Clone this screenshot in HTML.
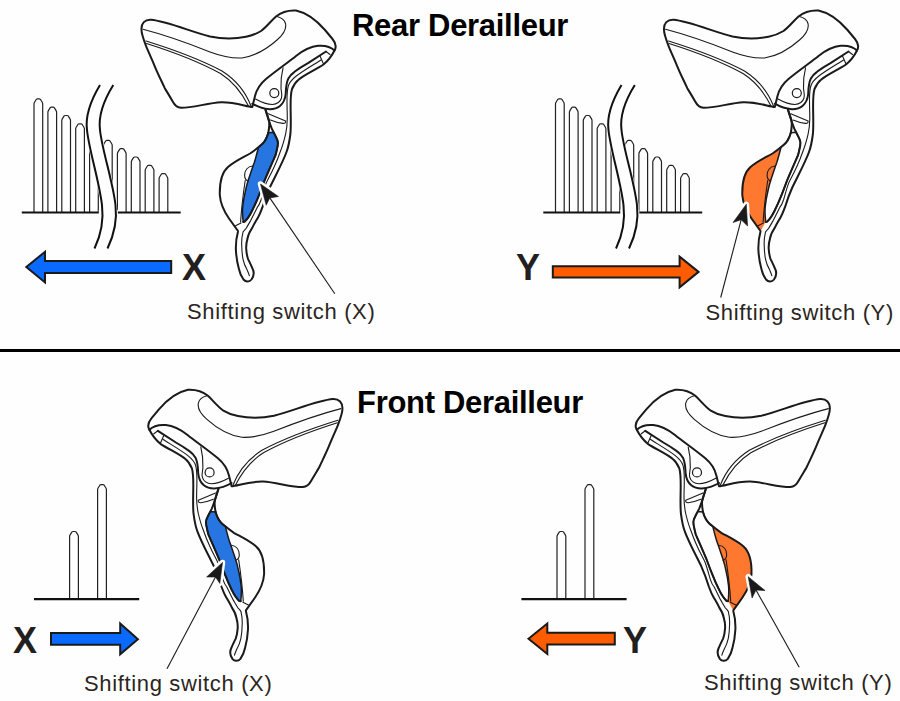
<!DOCTYPE html>
<html><head><meta charset="utf-8"><style>
html,body{margin:0;padding:0;background:#fefefe;}
body{width:900px;height:701px;position:relative;overflow:hidden;font-family:"Liberation Sans",sans-serif;}
svg{position:absolute;left:0;top:0;}
.t{position:absolute;white-space:nowrap;line-height:1;}
.h{font-weight:bold;color:#000;font-size:31px;letter-spacing:-0.3px;}
.l{color:#2b2522;font-size:22px;letter-spacing:0.65px;}
.xy{font-weight:bold;color:#231f20;font-size:36px;}
</style></head><body>
<svg width="900" height="701" viewBox="0 0 900 701">
<g transform="translate(0,0)"><path d="M34.0,212.5 L34.0,103.9 Q34.0,103.10000000000001 34.5,102.30000000000001 L36.35,99.30000000000001 Q36.75,98.9 37.35,98.9 L39.35,98.9 Q39.95,98.9 40.35,99.30000000000001 L42.2,102.30000000000001 Q42.7,103.10000000000001 42.7,103.9 L42.7,212.5" fill="#fefefe" stroke="#222" stroke-width="1.2" stroke-linejoin="round"/><path d="M47.9,212.5 L47.9,112.2 Q47.9,111.4 48.4,110.60000000000001 L50.25,107.60000000000001 Q50.65,107.2 51.25,107.2 L53.25,107.2 Q53.85,107.2 54.25,107.60000000000001 L56.1,110.60000000000001 Q56.6,111.4 56.6,112.2 L56.6,212.5" fill="#fefefe" stroke="#222" stroke-width="1.2" stroke-linejoin="round"/><path d="M61.8,212.5 L61.8,120.5 Q61.8,119.7 62.3,118.9 L64.15,115.9 Q64.55000000000001,115.5 65.15,115.5 L67.15,115.5 Q67.75,115.5 68.15,115.9 L70.0,118.9 Q70.5,119.7 70.5,120.5 L70.5,212.5" fill="#fefefe" stroke="#222" stroke-width="1.2" stroke-linejoin="round"/><path d="M75.7,212.5 L75.7,128.8 Q75.7,128.0 76.2,127.2 L78.05000000000001,124.2 Q78.45000000000002,123.8 79.05000000000001,123.8 L81.05000000000001,123.8 Q81.65,123.8 82.05000000000001,124.2 L83.9,127.2 Q84.4,128.0 84.4,128.8 L84.4,212.5" fill="#fefefe" stroke="#222" stroke-width="1.2" stroke-linejoin="round"/><path d="M89.6,212.5 L89.6,137.1 Q89.6,136.29999999999998 90.1,135.5 L91.94999999999999,132.5 Q92.35,132.1 92.94999999999999,132.1 L94.94999999999999,132.1 Q95.54999999999998,132.1 95.94999999999999,132.5 L97.8,135.5 Q98.3,136.29999999999998 98.3,137.1 L98.3,212.5" fill="#fefefe" stroke="#222" stroke-width="1.2" stroke-linejoin="round"/><path d="M103.5,212.5 L103.5,145.4 Q103.5,144.6 104.0,143.8 L105.85,140.8 Q106.25,140.4 106.85,140.4 L108.85,140.4 Q109.44999999999999,140.4 109.85,140.8 L111.7,143.8 Q112.2,144.6 112.2,145.4 L112.2,212.5" fill="#fefefe" stroke="#222" stroke-width="1.2" stroke-linejoin="round"/><path d="M117.4,212.5 L117.4,153.7 Q117.4,152.89999999999998 117.9,152.1 L119.75,149.1 Q120.15,148.7 120.75,148.7 L122.75,148.7 Q123.35,148.7 123.75,149.1 L125.6,152.1 Q126.1,152.89999999999998 126.1,153.7 L126.1,212.5" fill="#fefefe" stroke="#222" stroke-width="1.2" stroke-linejoin="round"/><path d="M131.3,212.5 L131.3,162.0 Q131.3,161.2 131.8,160.4 L133.65,157.4 Q134.05,157.0 134.65,157.0 L136.65,157.0 Q137.25,157.0 137.65,157.4 L139.5,160.4 Q140.0,161.2 140.0,162.0 L140.0,212.5" fill="#fefefe" stroke="#222" stroke-width="1.2" stroke-linejoin="round"/><path d="M145.2,212.5 L145.2,170.3 Q145.2,169.5 145.7,168.70000000000002 L147.55,165.70000000000002 Q147.95000000000002,165.3 148.55,165.3 L150.55,165.3 Q151.15,165.3 151.55,165.70000000000002 L153.4,168.70000000000002 Q153.9,169.5 153.9,170.3 L153.9,212.5" fill="#fefefe" stroke="#222" stroke-width="1.2" stroke-linejoin="round"/><path d="M159.1,212.5 L159.1,178.6 Q159.1,177.79999999999998 159.6,177.0 L161.45,174.0 Q161.85,173.6 162.45,173.6 L164.45,173.6 Q165.04999999999998,173.6 165.45,174.0 L167.3,177.0 Q167.8,177.79999999999998 167.8,178.6 L167.8,212.5" fill="#fefefe" stroke="#222" stroke-width="1.2" stroke-linejoin="round"/><path d="M21.8,212.5 H180.7" stroke="#111" stroke-width="2.2"/><path d="M100,85 C91,100 85,115 87,130 C89,150 99,180 102,205 C104,222 100.5,236 94.5,248.5 L107.5,248.5 C113.5,236 117.5,222 115.5,205 C112.5,180 102,150 100,130 C98,115 104,100 113.3,85 Z" fill="#fefefe" stroke="#fefefe" stroke-width="3"/><rect x="98.8" y="210" width="19" height="5" fill="#fefefe"/><path d="M100,85 C91,100 85,115 87,130 C89,150 99,180 102,205 C104,222 100.5,236 94.5,248.5" fill="none" stroke="#111" stroke-width="2"/><path d="M113.3,85 C104,100 98,115 100,130 C102,150 112.5,180 115.5,205 C117.5,222 113.5,236 107.5,248.5" fill="none" stroke="#111" stroke-width="2"/></g><g transform="translate(521.5,0)"><path d="M34.0,212.5 L34.0,103.9 Q34.0,103.10000000000001 34.5,102.30000000000001 L36.35,99.30000000000001 Q36.75,98.9 37.35,98.9 L39.35,98.9 Q39.95,98.9 40.35,99.30000000000001 L42.2,102.30000000000001 Q42.7,103.10000000000001 42.7,103.9 L42.7,212.5" fill="#fefefe" stroke="#222" stroke-width="1.2" stroke-linejoin="round"/><path d="M47.9,212.5 L47.9,112.2 Q47.9,111.4 48.4,110.60000000000001 L50.25,107.60000000000001 Q50.65,107.2 51.25,107.2 L53.25,107.2 Q53.85,107.2 54.25,107.60000000000001 L56.1,110.60000000000001 Q56.6,111.4 56.6,112.2 L56.6,212.5" fill="#fefefe" stroke="#222" stroke-width="1.2" stroke-linejoin="round"/><path d="M61.8,212.5 L61.8,120.5 Q61.8,119.7 62.3,118.9 L64.15,115.9 Q64.55000000000001,115.5 65.15,115.5 L67.15,115.5 Q67.75,115.5 68.15,115.9 L70.0,118.9 Q70.5,119.7 70.5,120.5 L70.5,212.5" fill="#fefefe" stroke="#222" stroke-width="1.2" stroke-linejoin="round"/><path d="M75.7,212.5 L75.7,128.8 Q75.7,128.0 76.2,127.2 L78.05000000000001,124.2 Q78.45000000000002,123.8 79.05000000000001,123.8 L81.05000000000001,123.8 Q81.65,123.8 82.05000000000001,124.2 L83.9,127.2 Q84.4,128.0 84.4,128.8 L84.4,212.5" fill="#fefefe" stroke="#222" stroke-width="1.2" stroke-linejoin="round"/><path d="M89.6,212.5 L89.6,137.1 Q89.6,136.29999999999998 90.1,135.5 L91.94999999999999,132.5 Q92.35,132.1 92.94999999999999,132.1 L94.94999999999999,132.1 Q95.54999999999998,132.1 95.94999999999999,132.5 L97.8,135.5 Q98.3,136.29999999999998 98.3,137.1 L98.3,212.5" fill="#fefefe" stroke="#222" stroke-width="1.2" stroke-linejoin="round"/><path d="M103.5,212.5 L103.5,145.4 Q103.5,144.6 104.0,143.8 L105.85,140.8 Q106.25,140.4 106.85,140.4 L108.85,140.4 Q109.44999999999999,140.4 109.85,140.8 L111.7,143.8 Q112.2,144.6 112.2,145.4 L112.2,212.5" fill="#fefefe" stroke="#222" stroke-width="1.2" stroke-linejoin="round"/><path d="M117.4,212.5 L117.4,153.7 Q117.4,152.89999999999998 117.9,152.1 L119.75,149.1 Q120.15,148.7 120.75,148.7 L122.75,148.7 Q123.35,148.7 123.75,149.1 L125.6,152.1 Q126.1,152.89999999999998 126.1,153.7 L126.1,212.5" fill="#fefefe" stroke="#222" stroke-width="1.2" stroke-linejoin="round"/><path d="M131.3,212.5 L131.3,162.0 Q131.3,161.2 131.8,160.4 L133.65,157.4 Q134.05,157.0 134.65,157.0 L136.65,157.0 Q137.25,157.0 137.65,157.4 L139.5,160.4 Q140.0,161.2 140.0,162.0 L140.0,212.5" fill="#fefefe" stroke="#222" stroke-width="1.2" stroke-linejoin="round"/><path d="M145.2,212.5 L145.2,170.3 Q145.2,169.5 145.7,168.70000000000002 L147.55,165.70000000000002 Q147.95000000000002,165.3 148.55,165.3 L150.55,165.3 Q151.15,165.3 151.55,165.70000000000002 L153.4,168.70000000000002 Q153.9,169.5 153.9,170.3 L153.9,212.5" fill="#fefefe" stroke="#222" stroke-width="1.2" stroke-linejoin="round"/><path d="M159.1,212.5 L159.1,178.6 Q159.1,177.79999999999998 159.6,177.0 L161.45,174.0 Q161.85,173.6 162.45,173.6 L164.45,173.6 Q165.04999999999998,173.6 165.45,174.0 L167.3,177.0 Q167.8,177.79999999999998 167.8,178.6 L167.8,212.5" fill="#fefefe" stroke="#222" stroke-width="1.2" stroke-linejoin="round"/><path d="M21.8,212.5 H180.7" stroke="#111" stroke-width="2.2"/><path d="M100,85 C91,100 85,115 87,130 C89,150 99,180 102,205 C104,222 100.5,236 94.5,248.5 L107.5,248.5 C113.5,236 117.5,222 115.5,205 C112.5,180 102,150 100,130 C98,115 104,100 113.3,85 Z" fill="#fefefe" stroke="#fefefe" stroke-width="3"/><rect x="98.8" y="210" width="19" height="5" fill="#fefefe"/><path d="M100,85 C91,100 85,115 87,130 C89,150 99,180 102,205 C104,222 100.5,236 94.5,248.5" fill="none" stroke="#111" stroke-width="2"/><path d="M113.3,85 C104,100 98,115 100,130 C102,150 112.5,180 115.5,205 C117.5,222 113.5,236 107.5,248.5" fill="none" stroke="#111" stroke-width="2"/></g><g transform="translate(0,0)"><path d="M69.6,599.2 L69.6,536.5 Q69.6,535.7 70.1,534.9 L72.0,531.9 Q72.4,531.5 73.0,531.5 L75.0,531.5 Q75.6,531.5 76.0,531.9 L77.9,534.9 Q78.4,535.7 78.4,536.5 L78.4,599.2" fill="#fefefe" stroke="#222" stroke-width="1.2" stroke-linejoin="round"/><path d="M97.6,599.2 L97.6,489.6 Q97.6,488.8 98.1,488.0 L100.0,485.0 Q100.4,484.6 101.0,484.6 L103.0,484.6 Q103.6,484.6 104.0,485.0 L105.9,488.0 Q106.4,488.8 106.4,489.6 L106.4,599.2" fill="#fefefe" stroke="#222" stroke-width="1.2" stroke-linejoin="round"/><path d="M34,599.2 H139.2" stroke="#111" stroke-width="2.2"/></g><g transform="translate(487.4,0)"><path d="M69.6,599.2 L69.6,536.5 Q69.6,535.7 70.1,534.9 L72.0,531.9 Q72.4,531.5 73.0,531.5 L75.0,531.5 Q75.6,531.5 76.0,531.9 L77.9,534.9 Q78.4,535.7 78.4,536.5 L78.4,599.2" fill="#fefefe" stroke="#222" stroke-width="1.2" stroke-linejoin="round"/><path d="M97.6,599.2 L97.6,489.6 Q97.6,488.8 98.1,488.0 L100.0,485.0 Q100.4,484.6 101.0,484.6 L103.0,484.6 Q103.6,484.6 104.0,485.0 L105.9,488.0 Q106.4,488.8 106.4,489.6 L106.4,599.2" fill="#fefefe" stroke="#222" stroke-width="1.2" stroke-linejoin="round"/><path d="M34,599.2 H139.2" stroke="#111" stroke-width="2.2"/></g><path d="M26.3,267.1 L45.0,251.8 L45.0,261.1 L171.2,261.1 L171.2,272.9 L45.0,272.9 L45.0,282.5 Z" fill="#0a6afe" stroke="#1a1a1a" stroke-width="2" stroke-linejoin="miter"/><path d="M698.5,271.9 L679.6,256.7 L679.6,266.3 L552.8,266.3 L552.8,277.5 L679.6,277.5 L679.6,287.3 Z" fill="#ff5c00" stroke="#1a1a1a" stroke-width="2" stroke-linejoin="miter"/><path d="M137.9,639.2 L120.2,623.5 L120.2,633.0 L51.0,633.0 L51.0,644.8 L120.2,644.8 L120.2,654.3 Z" fill="#0a6afe" stroke="#1a1a1a" stroke-width="2" stroke-linejoin="miter"/><path d="M528.5,638.7 L547.3,623.5 L547.3,632.7 L614.8,632.7 L614.8,644.5 L547.3,644.5 L547.3,654.0 Z" fill="#ff5c00" stroke="#1a1a1a" stroke-width="2" stroke-linejoin="miter"/><g transform="translate(0,0)"><path d="M258.5,147.3 C256,149.5 253.5,151.5 250,153.5 C244,157 235,161 228,167 C221,173 219.5,183 219.8,195 C220.5,205 224.5,212 229,218.5 C231.5,222 234,225.5 238,231 C240,228 241.5,225 243.2,221.5 C242.5,216 242.2,211 242.8,206 C243.5,200 244,197 245,193 C246,188 247,184 248,181 C249,177.5 250,175 251,172 C252,169 253,166 254.3,162.5 C255.5,159 256.8,154 258.5,147.3 Z" fill="#fefefe" stroke="none"/><path d="M268.3,132.7 L273.4,132.2 C274,133.2 274.5,134 275,135 C276.5,138 277.9,140 277.9,142.5 C278,145 277.5,147 277,149 C276.5,151.5 276,153.5 275.6,155 C273,161 269,170 264.9,179.7 C263,184.5 261.5,189 259.6,193.6 C257.5,199 255,205 252.1,210.7 C250,215 247.5,219 244.7,221.6 C244,222 243.5,222 243.2,221.8 C242.5,216 242.2,211 242.8,206 C243.5,200 244,197 245,193 C246,188 247,184 248,181 C249,177.5 250,175 251,172 C252,169 253,166 254.3,162.5 C255.5,159 256.8,154 258.5,147.3 C262,145 266,140 268.3,132.7 Z" fill="#2775e1" stroke="#1a1a1a" stroke-width="1.5" stroke-linejoin="round"/><path d="M141.5,30 C141,23 145,19.5 151,19.8 C166,21 192,32 210,36.5 C222,39 235,39 246,36.8 C252,35.5 257,33.5 261,31 C266,27.5 271,21 276,16.5 C281,12.5 288,10 296,10.5 C308,13 318,22 325,30 L332.5,39 C336.2,43.5 336.3,47.5 334.5,50.5 C331,47 324,45.3 318,45.8 C310,46.5 303,50.5 296,56 C290,61 277,70 266,79 C260,84 256.5,90 255,96 L252.3,107 C246,106.5 235,102 221,102.3 C208,103 192,108 181,107.8 C176,107.5 174,104 172.7,101.5 C169,95 167,92 164.8,88.2 C161,80 158,74 155.4,67.8 C151,57 148,51 146,45.8 C143,38 141.5,34 141.5,30 Z" fill="#fefefe" stroke="#1a1a1a" stroke-width="2.0" stroke-linecap="round" stroke-linejoin="round" /><path d="M143,29.3 C165,35 190,44 210,52 C222,56.5 232,58.5 242,58 C255,56 268,48 277,40 C284,34 286.5,28 285.5,23.5 C284.5,20 281,17.5 277,16.5" fill="none" stroke="#1a1a1a" stroke-width="1.1" stroke-linecap="round" stroke-linejoin="round" /><path d="M146,41 C175,50 205,62 222,71 C236,80 246,93 251,106" fill="none" stroke="#1a1a1a" stroke-width="1.1" stroke-linecap="round" stroke-linejoin="round" /><path d="M146.5,43.5 C175,52.5 204,64.5 220.5,73.5 C234,82 243,95 248.5,106" fill="none" stroke="#1a1a1a" stroke-width="1.1" stroke-linecap="round" stroke-linejoin="round" /><path d="M252.3,103.7 C257,106.5 263,108.8 269.4,109.2 C274,109.3 277,108.5 280,106 C283.5,103 285.3,98 285.7,94 C286,90 285.8,84 288.2,78.8 C290,75.5 292,73.5 294.5,71.8 C299,68.5 303,66 308,63.2 L326,51.5" fill="none" stroke="#1a1a1a" stroke-width="2.0" stroke-linecap="round" stroke-linejoin="round" /><path d="M283.1,67.7 C281.5,74 280.8,82 281,88.3 C281.2,92 282.5,95 281.5,98 C280.5,101.5 277,104.5 272.5,104.5 C266,104.5 260,101.5 255.5,99" fill="none" stroke="#1a1a1a" stroke-width="1.1" stroke-linecap="round" stroke-linejoin="round" /><circle cx="274.3" cy="93.1" r="4.5" fill="none" stroke="#1a1a1a" stroke-width="1.2"/><path d="M334.5,50.5 C332.5,54.5 329,60 323.5,64.5 C316,69.5 304,75 298.5,79.7 C295,82.5 293.4,85.7 292,89 C290.8,93 290.6,100 290.6,106 C290.6,115 291.2,126 290.4,134 C289.5,141 288.5,147 286.5,152 C284,159 279,169 275,177 C273,181 271.5,184 270,187 C267.5,192.5 265,199 262.3,207.7 C261,211 260,214 258.4,216.7 C256,221 254,224 252,228.3 C249.5,232 248,235 247.5,238.6 C246.5,242 246,245 246.2,248.8 C246.5,253 247,256 248.1,259.1 C249.5,262 251,265 252.5,268.5 C254,271.5 254,276 251.5,279.5 C249.5,282 246,282.5 243.5,279.5 C241,276 239.5,272 238.8,268.5 C237,262 236.2,256 235.9,250 C235.7,244 236.5,237 237.9,232.1" fill="none" stroke="#1a1a1a" stroke-width="2.0" stroke-linecap="round" stroke-linejoin="round" /><path d="M321,60 C314,64.5 302,71.5 296,76.3 C292,79.5 289.5,82 288.3,86 C287.2,90 287,95 287,100 C287,108 287.3,113 287.3,118.5 C287.2,125 286.5,130 285.6,134.2 C284,141 282.5,146 280.9,150 C278.5,157 276.5,162 274,167.2 C271.5,173 268.5,178 266.2,182.9 C264,189 262.5,195 261,200 C260,203 258.5,206 257.1,207.7 C255,212 253,216 250.7,220.6 C249,223.5 247.5,226 246.2,228.3 C244.5,230 243.5,231 243,232.1 C241.8,237 241.5,241 241.7,245 C241.8,250 242.2,255 243,259.1 C244,264 245.5,267 246.9,269.4 C247.8,271.5 248.8,273.5 249.4,275.8" fill="none" stroke="#1a1a1a" stroke-width="1.1" stroke-linecap="round" stroke-linejoin="round" /><path d="M320,56 L323.5,64" fill="none" stroke="#1a1a1a" stroke-width="1.1" stroke-linecap="round" stroke-linejoin="round" /><path d="M326,51.5 L330,54.5" fill="none" stroke="#1a1a1a" stroke-width="1.1" stroke-linecap="round" stroke-linejoin="round" /><path d="M265.5,109.5 C266.5,113 268.5,118 269.2,122 C269.5,125 269,129 268.3,132.7" fill="none" stroke="#1a1a1a" stroke-width="2.0" stroke-linecap="round" stroke-linejoin="round" /><path d="M265.5,110 L269.3,121.9 C270.5,125 271,127 272.1,129.3 C273.5,132 274,133 275,135 C276.5,138 277.9,140 277.9,142.5 C278,145 277.5,147 277,149 C276.5,151.5 276,153.5 275.6,155 C273,161 269,170 264.9,179.7 C263,184.5 261.5,189 259.6,193.6 C257.5,199 255,205 252.1,210.7 C250,215 247.5,219 244.7,221.6 C244,222 243.5,222 243.2,221.8" fill="none" stroke="#1a1a1a" stroke-width="2.0" stroke-linecap="round" stroke-linejoin="round" /><path d="M268.3,132.7 C267,138 264.5,142.5 260.7,145.3 C257,148.5 254,151 250,153.5 C244,157 235,161 228,167 C221,173 219.5,183 219.8,195 C220.5,205 224.5,212 229,218.5 C231.5,222 234,225.5 238,231" fill="none" stroke="#1a1a1a" stroke-width="2.0" stroke-linecap="round" stroke-linejoin="round" /><path d="M268.3,113.8 L285.6,120.9 C286,122.5 285,123.5 283,123.4 C279,123 274,121.5 270.5,120" fill="none" stroke="#1a1a1a" stroke-width="1.1" stroke-linecap="round" stroke-linejoin="round" /><path d="M252.8,166 C247.5,166.5 244.6,170.5 244.6,175.6 C244.6,178.5 246.5,180.8 248.3,181" fill="none" stroke="#1a1a1a" stroke-width="1.1" stroke-linecap="round" stroke-linejoin="round" /><path d="M245.2,180.5 C243.8,190 241.6,205 240.6,222" fill="none" stroke="#1a1a1a" stroke-width="1.1" stroke-linecap="round" stroke-linejoin="round" /><path d="M235.5,225.7 L241,223" fill="none" stroke="#1a1a1a" stroke-width="1.1" stroke-linecap="round" stroke-linejoin="round" /></g><path d="M260.5,184 L278.5,196.5 L269.8,197.9 L266.2,205.2 Z" fill="#fefefe" stroke="#fefefe" stroke-width="5.5" stroke-linejoin="round"/><path d="M269.8,197.9 L334.8,293.7" stroke="#1a1a1a" stroke-width="1.1"/><path d="M260.5,184 L278.5,196.5 L269.8,197.9 L266.2,205.2 Z" fill="#1a1a1a" stroke="#1a1a1a" stroke-width="0.6" stroke-linejoin="miter"/><g transform="translate(522.5,0)"><path d="M258.5,147.3 C256,149.5 253.5,151.5 250,153.5 C244,157 235,161 228,167 C221,173 219.5,183 219.8,195 C220.5,205 224.5,212 229,218.5 C231.5,222 234,225.5 238,231 C240,228 241.5,225 243.2,221.5 C242.5,216 242.2,211 242.8,206 C243.5,200 244,197 245,193 C246,188 247,184 248,181 C249,177.5 250,175 251,172 C252,169 253,166 254.3,162.5 C255.5,159 256.8,154 258.5,147.3 Z" fill="#fe7830" stroke="none"/><path d="M268.3,132.7 L273.4,132.2 C274,133.2 274.5,134 275,135 C276.5,138 277.9,140 277.9,142.5 C278,145 277.5,147 277,149 C276.5,151.5 276,153.5 275.6,155 C273,161 269,170 264.9,179.7 C263,184.5 261.5,189 259.6,193.6 C257.5,199 255,205 252.1,210.7 C250,215 247.5,219 244.7,221.6 C244,222 243.5,222 243.2,221.8 C242.5,216 242.2,211 242.8,206 C243.5,200 244,197 245,193 C246,188 247,184 248,181 C249,177.5 250,175 251,172 C252,169 253,166 254.3,162.5 C255.5,159 256.8,154 258.5,147.3 C262,145 266,140 268.3,132.7 Z" fill="#fefefe" stroke="#1a1a1a" stroke-width="1.5" stroke-linejoin="round"/><path d="M141.5,30 C141,23 145,19.5 151,19.8 C166,21 192,32 210,36.5 C222,39 235,39 246,36.8 C252,35.5 257,33.5 261,31 C266,27.5 271,21 276,16.5 C281,12.5 288,10 296,10.5 C308,13 318,22 325,30 L332.5,39 C336.2,43.5 336.3,47.5 334.5,50.5 C331,47 324,45.3 318,45.8 C310,46.5 303,50.5 296,56 C290,61 277,70 266,79 C260,84 256.5,90 255,96 L252.3,107 C246,106.5 235,102 221,102.3 C208,103 192,108 181,107.8 C176,107.5 174,104 172.7,101.5 C169,95 167,92 164.8,88.2 C161,80 158,74 155.4,67.8 C151,57 148,51 146,45.8 C143,38 141.5,34 141.5,30 Z" fill="#fefefe" stroke="#1a1a1a" stroke-width="2.0" stroke-linecap="round" stroke-linejoin="round" /><path d="M143,29.3 C165,35 190,44 210,52 C222,56.5 232,58.5 242,58 C255,56 268,48 277,40 C284,34 286.5,28 285.5,23.5 C284.5,20 281,17.5 277,16.5" fill="none" stroke="#1a1a1a" stroke-width="1.1" stroke-linecap="round" stroke-linejoin="round" /><path d="M146,41 C175,50 205,62 222,71 C236,80 246,93 251,106" fill="none" stroke="#1a1a1a" stroke-width="1.1" stroke-linecap="round" stroke-linejoin="round" /><path d="M146.5,43.5 C175,52.5 204,64.5 220.5,73.5 C234,82 243,95 248.5,106" fill="none" stroke="#1a1a1a" stroke-width="1.1" stroke-linecap="round" stroke-linejoin="round" /><path d="M252.3,103.7 C257,106.5 263,108.8 269.4,109.2 C274,109.3 277,108.5 280,106 C283.5,103 285.3,98 285.7,94 C286,90 285.8,84 288.2,78.8 C290,75.5 292,73.5 294.5,71.8 C299,68.5 303,66 308,63.2 L326,51.5" fill="none" stroke="#1a1a1a" stroke-width="2.0" stroke-linecap="round" stroke-linejoin="round" /><path d="M283.1,67.7 C281.5,74 280.8,82 281,88.3 C281.2,92 282.5,95 281.5,98 C280.5,101.5 277,104.5 272.5,104.5 C266,104.5 260,101.5 255.5,99" fill="none" stroke="#1a1a1a" stroke-width="1.1" stroke-linecap="round" stroke-linejoin="round" /><circle cx="274.3" cy="93.1" r="4.5" fill="none" stroke="#1a1a1a" stroke-width="1.2"/><path d="M334.5,50.5 C332.5,54.5 329,60 323.5,64.5 C316,69.5 304,75 298.5,79.7 C295,82.5 293.4,85.7 292,89 C290.8,93 290.6,100 290.6,106 C290.6,115 291.2,126 290.4,134 C289.5,141 288.5,147 286.5,152 C284,159 279,169 275,177 C273,181 271.5,184 270,187 C267.5,192.5 265,199 262.3,207.7 C261,211 260,214 258.4,216.7 C256,221 254,224 252,228.3 C249.5,232 248,235 247.5,238.6 C246.5,242 246,245 246.2,248.8 C246.5,253 247,256 248.1,259.1 C249.5,262 251,265 252.5,268.5 C254,271.5 254,276 251.5,279.5 C249.5,282 246,282.5 243.5,279.5 C241,276 239.5,272 238.8,268.5 C237,262 236.2,256 235.9,250 C235.7,244 236.5,237 237.9,232.1" fill="none" stroke="#1a1a1a" stroke-width="2.0" stroke-linecap="round" stroke-linejoin="round" /><path d="M321,60 C314,64.5 302,71.5 296,76.3 C292,79.5 289.5,82 288.3,86 C287.2,90 287,95 287,100 C287,108 287.3,113 287.3,118.5 C287.2,125 286.5,130 285.6,134.2 C284,141 282.5,146 280.9,150 C278.5,157 276.5,162 274,167.2 C271.5,173 268.5,178 266.2,182.9 C264,189 262.5,195 261,200 C260,203 258.5,206 257.1,207.7 C255,212 253,216 250.7,220.6 C249,223.5 247.5,226 246.2,228.3 C244.5,230 243.5,231 243,232.1 C241.8,237 241.5,241 241.7,245 C241.8,250 242.2,255 243,259.1 C244,264 245.5,267 246.9,269.4 C247.8,271.5 248.8,273.5 249.4,275.8" fill="none" stroke="#1a1a1a" stroke-width="1.1" stroke-linecap="round" stroke-linejoin="round" /><path d="M320,56 L323.5,64" fill="none" stroke="#1a1a1a" stroke-width="1.1" stroke-linecap="round" stroke-linejoin="round" /><path d="M326,51.5 L330,54.5" fill="none" stroke="#1a1a1a" stroke-width="1.1" stroke-linecap="round" stroke-linejoin="round" /><path d="M265.5,109.5 C266.5,113 268.5,118 269.2,122 C269.5,125 269,129 268.3,132.7" fill="none" stroke="#1a1a1a" stroke-width="2.0" stroke-linecap="round" stroke-linejoin="round" /><path d="M265.5,110 L269.3,121.9 C270.5,125 271,127 272.1,129.3 C273.5,132 274,133 275,135 C276.5,138 277.9,140 277.9,142.5 C278,145 277.5,147 277,149 C276.5,151.5 276,153.5 275.6,155 C273,161 269,170 264.9,179.7 C263,184.5 261.5,189 259.6,193.6 C257.5,199 255,205 252.1,210.7 C250,215 247.5,219 244.7,221.6 C244,222 243.5,222 243.2,221.8" fill="none" stroke="#1a1a1a" stroke-width="2.0" stroke-linecap="round" stroke-linejoin="round" /><path d="M268.3,132.7 C267,138 264.5,142.5 260.7,145.3 C257,148.5 254,151 250,153.5 C244,157 235,161 228,167 C221,173 219.5,183 219.8,195 C220.5,205 224.5,212 229,218.5 C231.5,222 234,225.5 238,231" fill="none" stroke="#1a1a1a" stroke-width="2.0" stroke-linecap="round" stroke-linejoin="round" /><path d="M268.3,113.8 L285.6,120.9 C286,122.5 285,123.5 283,123.4 C279,123 274,121.5 270.5,120" fill="none" stroke="#1a1a1a" stroke-width="1.1" stroke-linecap="round" stroke-linejoin="round" /><path d="M252.8,166 C247.5,166.5 244.6,170.5 244.6,175.6 C244.6,178.5 246.5,180.8 248.3,181" fill="none" stroke="#1a1a1a" stroke-width="1.1" stroke-linecap="round" stroke-linejoin="round" /><path d="M245.2,180.5 C243.8,190 241.6,205 240.6,222" fill="none" stroke="#1a1a1a" stroke-width="1.1" stroke-linecap="round" stroke-linejoin="round" /><path d="M235.5,225.7 L241,223" fill="none" stroke="#1a1a1a" stroke-width="1.1" stroke-linecap="round" stroke-linejoin="round" /></g><path d="M746.3,204.2 L733,222.5 L741.2,219.7 L747.6,226.1 Z" fill="#fefefe" stroke="#fefefe" stroke-width="5.5" stroke-linejoin="round"/><path d="M741.2,219.7 L720.7,297.5" stroke="#1a1a1a" stroke-width="1.1"/><path d="M746.3,204.2 L733,222.5 L741.2,219.7 L747.6,226.1 Z" fill="#1a1a1a" stroke="#1a1a1a" stroke-width="0.6" stroke-linejoin="miter"/><g transform="matrix(-1,0,0,1,483.9,379.3)"><path d="M258.5,147.3 C256,149.5 253.5,151.5 250,153.5 C244,157 235,161 228,167 C221,173 219.5,183 219.8,195 C220.5,205 224.5,212 229,218.5 C231.5,222 234,225.5 238,231 C240,228 241.5,225 243.2,221.5 C242.5,216 242.2,211 242.8,206 C243.5,200 244,197 245,193 C246,188 247,184 248,181 C249,177.5 250,175 251,172 C252,169 253,166 254.3,162.5 C255.5,159 256.8,154 258.5,147.3 Z" fill="#fefefe" stroke="none"/><path d="M268.3,132.7 L273.4,132.2 C274,133.2 274.5,134 275,135 C276.5,138 277.9,140 277.9,142.5 C278,145 277.5,147 277,149 C276.5,151.5 276,153.5 275.6,155 C273,161 269,170 264.9,179.7 C263,184.5 261.5,189 259.6,193.6 C257.5,199 255,205 252.1,210.7 C250,215 247.5,219 244.7,221.6 C244,222 243.5,222 243.2,221.8 C242.5,216 242.2,211 242.8,206 C243.5,200 244,197 245,193 C246,188 247,184 248,181 C249,177.5 250,175 251,172 C252,169 253,166 254.3,162.5 C255.5,159 256.8,154 258.5,147.3 C262,145 266,140 268.3,132.7 Z" fill="#2775e1" stroke="#1a1a1a" stroke-width="1.5" stroke-linejoin="round"/><path d="M141.5,30 C141,23 145,19.5 151,19.8 C166,21 192,32 210,36.5 C222,39 235,39 246,36.8 C252,35.5 257,33.5 261,31 C266,27.5 271,21 276,16.5 C281,12.5 288,10 296,10.5 C308,13 318,22 325,30 L332.5,39 C336.2,43.5 336.3,47.5 334.5,50.5 C331,47 324,45.3 318,45.8 C310,46.5 303,50.5 296,56 C290,61 277,70 266,79 C260,84 256.5,90 255,96 L252.3,107 C246,106.5 235,102 221,102.3 C208,103 192,108 181,107.8 C176,107.5 174,104 172.7,101.5 C169,95 167,92 164.8,88.2 C161,80 158,74 155.4,67.8 C151,57 148,51 146,45.8 C143,38 141.5,34 141.5,30 Z" fill="#fefefe" stroke="#1a1a1a" stroke-width="2.0" stroke-linecap="round" stroke-linejoin="round" /><path d="M143,29.3 C165,35 190,44 210,52 C222,56.5 232,58.5 242,58 C255,56 268,48 277,40 C284,34 286.5,28 285.5,23.5 C284.5,20 281,17.5 277,16.5" fill="none" stroke="#1a1a1a" stroke-width="1.1" stroke-linecap="round" stroke-linejoin="round" /><path d="M146,41 C175,50 205,62 222,71 C236,80 246,93 251,106" fill="none" stroke="#1a1a1a" stroke-width="1.1" stroke-linecap="round" stroke-linejoin="round" /><path d="M146.5,43.5 C175,52.5 204,64.5 220.5,73.5 C234,82 243,95 248.5,106" fill="none" stroke="#1a1a1a" stroke-width="1.1" stroke-linecap="round" stroke-linejoin="round" /><path d="M252.3,103.7 C257,106.5 263,108.8 269.4,109.2 C274,109.3 277,108.5 280,106 C283.5,103 285.3,98 285.7,94 C286,90 285.8,84 288.2,78.8 C290,75.5 292,73.5 294.5,71.8 C299,68.5 303,66 308,63.2 L326,51.5" fill="none" stroke="#1a1a1a" stroke-width="2.0" stroke-linecap="round" stroke-linejoin="round" /><path d="M283.1,67.7 C281.5,74 280.8,82 281,88.3 C281.2,92 282.5,95 281.5,98 C280.5,101.5 277,104.5 272.5,104.5 C266,104.5 260,101.5 255.5,99" fill="none" stroke="#1a1a1a" stroke-width="1.1" stroke-linecap="round" stroke-linejoin="round" /><circle cx="274.3" cy="93.1" r="4.5" fill="none" stroke="#1a1a1a" stroke-width="1.2"/><path d="M334.5,50.5 C332.5,54.5 329,60 323.5,64.5 C316,69.5 304,75 298.5,79.7 C295,82.5 293.4,85.7 292,89 C290.8,93 290.6,100 290.6,106 C290.6,115 291.2,126 290.4,134 C289.5,141 288.5,147 286.5,152 C284,159 279,169 275,177 C273,181 271.5,184 270,187 C267.5,192.5 265,199 262.3,207.7 C261,211 260,214 258.4,216.7 C256,221 254,224 252,228.3 C249.5,232 248,235 247.5,238.6 C246.5,242 246,245 246.2,248.8 C246.5,253 247,256 248.1,259.1 C249.5,262 251,265 252.5,268.5 C254,271.5 254,276 251.5,279.5 C249.5,282 246,282.5 243.5,279.5 C241,276 239.5,272 238.8,268.5 C237,262 236.2,256 235.9,250 C235.7,244 236.5,237 237.9,232.1" fill="none" stroke="#1a1a1a" stroke-width="2.0" stroke-linecap="round" stroke-linejoin="round" /><path d="M321,60 C314,64.5 302,71.5 296,76.3 C292,79.5 289.5,82 288.3,86 C287.2,90 287,95 287,100 C287,108 287.3,113 287.3,118.5 C287.2,125 286.5,130 285.6,134.2 C284,141 282.5,146 280.9,150 C278.5,157 276.5,162 274,167.2 C271.5,173 268.5,178 266.2,182.9 C264,189 262.5,195 261,200 C260,203 258.5,206 257.1,207.7 C255,212 253,216 250.7,220.6 C249,223.5 247.5,226 246.2,228.3 C244.5,230 243.5,231 243,232.1 C241.8,237 241.5,241 241.7,245 C241.8,250 242.2,255 243,259.1 C244,264 245.5,267 246.9,269.4 C247.8,271.5 248.8,273.5 249.4,275.8" fill="none" stroke="#1a1a1a" stroke-width="1.1" stroke-linecap="round" stroke-linejoin="round" /><path d="M320,56 L323.5,64" fill="none" stroke="#1a1a1a" stroke-width="1.1" stroke-linecap="round" stroke-linejoin="round" /><path d="M326,51.5 L330,54.5" fill="none" stroke="#1a1a1a" stroke-width="1.1" stroke-linecap="round" stroke-linejoin="round" /><path d="M265.5,109.5 C266.5,113 268.5,118 269.2,122 C269.5,125 269,129 268.3,132.7" fill="none" stroke="#1a1a1a" stroke-width="2.0" stroke-linecap="round" stroke-linejoin="round" /><path d="M265.5,110 L269.3,121.9 C270.5,125 271,127 272.1,129.3 C273.5,132 274,133 275,135 C276.5,138 277.9,140 277.9,142.5 C278,145 277.5,147 277,149 C276.5,151.5 276,153.5 275.6,155 C273,161 269,170 264.9,179.7 C263,184.5 261.5,189 259.6,193.6 C257.5,199 255,205 252.1,210.7 C250,215 247.5,219 244.7,221.6 C244,222 243.5,222 243.2,221.8" fill="none" stroke="#1a1a1a" stroke-width="2.0" stroke-linecap="round" stroke-linejoin="round" /><path d="M268.3,132.7 C267,138 264.5,142.5 260.7,145.3 C257,148.5 254,151 250,153.5 C244,157 235,161 228,167 C221,173 219.5,183 219.8,195 C220.5,205 224.5,212 229,218.5 C231.5,222 234,225.5 238,231" fill="none" stroke="#1a1a1a" stroke-width="2.0" stroke-linecap="round" stroke-linejoin="round" /><path d="M268.3,113.8 L285.6,120.9 C286,122.5 285,123.5 283,123.4 C279,123 274,121.5 270.5,120" fill="none" stroke="#1a1a1a" stroke-width="1.1" stroke-linecap="round" stroke-linejoin="round" /><path d="M252.8,166 C247.5,166.5 244.6,170.5 244.6,175.6 C244.6,178.5 246.5,180.8 248.3,181" fill="none" stroke="#1a1a1a" stroke-width="1.1" stroke-linecap="round" stroke-linejoin="round" /><path d="M245.2,180.5 C243.8,190 241.6,205 240.6,222" fill="none" stroke="#1a1a1a" stroke-width="1.1" stroke-linecap="round" stroke-linejoin="round" /><path d="M235.5,225.7 L241,223" fill="none" stroke="#1a1a1a" stroke-width="1.1" stroke-linecap="round" stroke-linejoin="round" /></g><path d="M222.5,562.4 L206.6,577 L215.5,577 L219.8,583.4 Z" fill="#fefefe" stroke="#fefefe" stroke-width="5.5" stroke-linejoin="round"/><path d="M215.5,577 L167,668.7" stroke="#1a1a1a" stroke-width="1.1"/><path d="M222.5,562.4 L206.6,577 L215.5,577 L219.8,583.4 Z" fill="#1a1a1a" stroke="#1a1a1a" stroke-width="0.6" stroke-linejoin="miter"/><g transform="matrix(-1,0,0,1,971.3,379.3)"><path d="M258.5,147.3 C256,149.5 253.5,151.5 250,153.5 C244,157 235,161 228,167 C221,173 219.5,183 219.8,195 C220.5,205 224.5,212 229,218.5 C231.5,222 234,225.5 238,231 C240,228 241.5,225 243.2,221.5 C242.5,216 242.2,211 242.8,206 C243.5,200 244,197 245,193 C246,188 247,184 248,181 C249,177.5 250,175 251,172 C252,169 253,166 254.3,162.5 C255.5,159 256.8,154 258.5,147.3 Z" fill="#fe7830" stroke="none"/><path d="M268.3,132.7 L273.4,132.2 C274,133.2 274.5,134 275,135 C276.5,138 277.9,140 277.9,142.5 C278,145 277.5,147 277,149 C276.5,151.5 276,153.5 275.6,155 C273,161 269,170 264.9,179.7 C263,184.5 261.5,189 259.6,193.6 C257.5,199 255,205 252.1,210.7 C250,215 247.5,219 244.7,221.6 C244,222 243.5,222 243.2,221.8 C242.5,216 242.2,211 242.8,206 C243.5,200 244,197 245,193 C246,188 247,184 248,181 C249,177.5 250,175 251,172 C252,169 253,166 254.3,162.5 C255.5,159 256.8,154 258.5,147.3 C262,145 266,140 268.3,132.7 Z" fill="#fefefe" stroke="#1a1a1a" stroke-width="1.5" stroke-linejoin="round"/><path d="M141.5,30 C141,23 145,19.5 151,19.8 C166,21 192,32 210,36.5 C222,39 235,39 246,36.8 C252,35.5 257,33.5 261,31 C266,27.5 271,21 276,16.5 C281,12.5 288,10 296,10.5 C308,13 318,22 325,30 L332.5,39 C336.2,43.5 336.3,47.5 334.5,50.5 C331,47 324,45.3 318,45.8 C310,46.5 303,50.5 296,56 C290,61 277,70 266,79 C260,84 256.5,90 255,96 L252.3,107 C246,106.5 235,102 221,102.3 C208,103 192,108 181,107.8 C176,107.5 174,104 172.7,101.5 C169,95 167,92 164.8,88.2 C161,80 158,74 155.4,67.8 C151,57 148,51 146,45.8 C143,38 141.5,34 141.5,30 Z" fill="#fefefe" stroke="#1a1a1a" stroke-width="2.0" stroke-linecap="round" stroke-linejoin="round" /><path d="M143,29.3 C165,35 190,44 210,52 C222,56.5 232,58.5 242,58 C255,56 268,48 277,40 C284,34 286.5,28 285.5,23.5 C284.5,20 281,17.5 277,16.5" fill="none" stroke="#1a1a1a" stroke-width="1.1" stroke-linecap="round" stroke-linejoin="round" /><path d="M146,41 C175,50 205,62 222,71 C236,80 246,93 251,106" fill="none" stroke="#1a1a1a" stroke-width="1.1" stroke-linecap="round" stroke-linejoin="round" /><path d="M146.5,43.5 C175,52.5 204,64.5 220.5,73.5 C234,82 243,95 248.5,106" fill="none" stroke="#1a1a1a" stroke-width="1.1" stroke-linecap="round" stroke-linejoin="round" /><path d="M252.3,103.7 C257,106.5 263,108.8 269.4,109.2 C274,109.3 277,108.5 280,106 C283.5,103 285.3,98 285.7,94 C286,90 285.8,84 288.2,78.8 C290,75.5 292,73.5 294.5,71.8 C299,68.5 303,66 308,63.2 L326,51.5" fill="none" stroke="#1a1a1a" stroke-width="2.0" stroke-linecap="round" stroke-linejoin="round" /><path d="M283.1,67.7 C281.5,74 280.8,82 281,88.3 C281.2,92 282.5,95 281.5,98 C280.5,101.5 277,104.5 272.5,104.5 C266,104.5 260,101.5 255.5,99" fill="none" stroke="#1a1a1a" stroke-width="1.1" stroke-linecap="round" stroke-linejoin="round" /><circle cx="274.3" cy="93.1" r="4.5" fill="none" stroke="#1a1a1a" stroke-width="1.2"/><path d="M334.5,50.5 C332.5,54.5 329,60 323.5,64.5 C316,69.5 304,75 298.5,79.7 C295,82.5 293.4,85.7 292,89 C290.8,93 290.6,100 290.6,106 C290.6,115 291.2,126 290.4,134 C289.5,141 288.5,147 286.5,152 C284,159 279,169 275,177 C273,181 271.5,184 270,187 C267.5,192.5 265,199 262.3,207.7 C261,211 260,214 258.4,216.7 C256,221 254,224 252,228.3 C249.5,232 248,235 247.5,238.6 C246.5,242 246,245 246.2,248.8 C246.5,253 247,256 248.1,259.1 C249.5,262 251,265 252.5,268.5 C254,271.5 254,276 251.5,279.5 C249.5,282 246,282.5 243.5,279.5 C241,276 239.5,272 238.8,268.5 C237,262 236.2,256 235.9,250 C235.7,244 236.5,237 237.9,232.1" fill="none" stroke="#1a1a1a" stroke-width="2.0" stroke-linecap="round" stroke-linejoin="round" /><path d="M321,60 C314,64.5 302,71.5 296,76.3 C292,79.5 289.5,82 288.3,86 C287.2,90 287,95 287,100 C287,108 287.3,113 287.3,118.5 C287.2,125 286.5,130 285.6,134.2 C284,141 282.5,146 280.9,150 C278.5,157 276.5,162 274,167.2 C271.5,173 268.5,178 266.2,182.9 C264,189 262.5,195 261,200 C260,203 258.5,206 257.1,207.7 C255,212 253,216 250.7,220.6 C249,223.5 247.5,226 246.2,228.3 C244.5,230 243.5,231 243,232.1 C241.8,237 241.5,241 241.7,245 C241.8,250 242.2,255 243,259.1 C244,264 245.5,267 246.9,269.4 C247.8,271.5 248.8,273.5 249.4,275.8" fill="none" stroke="#1a1a1a" stroke-width="1.1" stroke-linecap="round" stroke-linejoin="round" /><path d="M320,56 L323.5,64" fill="none" stroke="#1a1a1a" stroke-width="1.1" stroke-linecap="round" stroke-linejoin="round" /><path d="M326,51.5 L330,54.5" fill="none" stroke="#1a1a1a" stroke-width="1.1" stroke-linecap="round" stroke-linejoin="round" /><path d="M265.5,109.5 C266.5,113 268.5,118 269.2,122 C269.5,125 269,129 268.3,132.7" fill="none" stroke="#1a1a1a" stroke-width="2.0" stroke-linecap="round" stroke-linejoin="round" /><path d="M265.5,110 L269.3,121.9 C270.5,125 271,127 272.1,129.3 C273.5,132 274,133 275,135 C276.5,138 277.9,140 277.9,142.5 C278,145 277.5,147 277,149 C276.5,151.5 276,153.5 275.6,155 C273,161 269,170 264.9,179.7 C263,184.5 261.5,189 259.6,193.6 C257.5,199 255,205 252.1,210.7 C250,215 247.5,219 244.7,221.6 C244,222 243.5,222 243.2,221.8" fill="none" stroke="#1a1a1a" stroke-width="2.0" stroke-linecap="round" stroke-linejoin="round" /><path d="M268.3,132.7 C267,138 264.5,142.5 260.7,145.3 C257,148.5 254,151 250,153.5 C244,157 235,161 228,167 C221,173 219.5,183 219.8,195 C220.5,205 224.5,212 229,218.5 C231.5,222 234,225.5 238,231" fill="none" stroke="#1a1a1a" stroke-width="2.0" stroke-linecap="round" stroke-linejoin="round" /><path d="M268.3,113.8 L285.6,120.9 C286,122.5 285,123.5 283,123.4 C279,123 274,121.5 270.5,120" fill="none" stroke="#1a1a1a" stroke-width="1.1" stroke-linecap="round" stroke-linejoin="round" /><path d="M252.8,166 C247.5,166.5 244.6,170.5 244.6,175.6 C244.6,178.5 246.5,180.8 248.3,181" fill="none" stroke="#1a1a1a" stroke-width="1.1" stroke-linecap="round" stroke-linejoin="round" /><path d="M245.2,180.5 C243.8,190 241.6,205 240.6,222" fill="none" stroke="#1a1a1a" stroke-width="1.1" stroke-linecap="round" stroke-linejoin="round" /><path d="M235.5,225.7 L241,223" fill="none" stroke="#1a1a1a" stroke-width="1.1" stroke-linecap="round" stroke-linejoin="round" /></g><path d="M748.2,576.7 L752.1,598.1 L756,590 L765.1,590.6 Z" fill="#fefefe" stroke="#fefefe" stroke-width="5.5" stroke-linejoin="round"/><path d="M756,590 L799.2,667.2" stroke="#1a1a1a" stroke-width="1.1"/><path d="M748.2,576.7 L752.1,598.1 L756,590 L765.1,590.6 Z" fill="#1a1a1a" stroke="#1a1a1a" stroke-width="0.6" stroke-linejoin="miter"/><rect x="0" y="349" width="900" height="3" fill="#000"/>
</svg>
<div class="t h" style="left:352px;top:10px;">Rear Derailleur</div>
<div class="t h" style="left:357px;top:387px;">Front Derailleur</div>
<div class="t l" style="left:187px;top:301px;">Shifting switch (X)</div>
<div class="t l" style="left:705.5px;top:302px;">Shifting switch (Y)</div>
<div class="t l" style="left:84px;top:672.5px;">Shifting switch (X)</div>
<div class="t l" style="left:704px;top:672px;">Shifting switch (Y)</div>
<div class="t xy" style="left:182px;top:250px;">X</div>
<div class="t xy" style="left:516px;top:250px;">Y</div>
<div class="t xy" style="left:13px;top:623px;">X</div>
<div class="t xy" style="left:623px;top:623px;">Y</div>
</body></html>
